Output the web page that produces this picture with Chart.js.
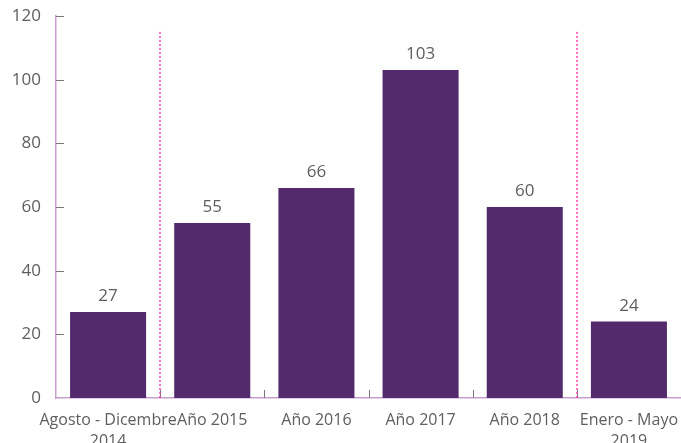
<!DOCTYPE html>
<html>
<head>
<meta charset="utf-8">
<script src="https://cdn.jsdelivr.net/npm/chart.js@4/dist/chart.umd.min.js"></script>
<style>
  html, body { margin: 0; padding: 0; background: #fff; overflow: hidden; }
  #wrap { width: 681px; height: 443px; }
</style>
</head>
<body>
<div id="wrap"><canvas id="chart"></canvas></div>
<script>
var categories = [['Agosto - Dicembre', '2014'], 'Año 2015', 'Año 2016', 'Año 2017', 'Año 2018', ['Enero - Mayo', '2019']];
var values = [27, 55, 66, 103, 60, 24];
var yTicks = [0, 20, 40, 60, 80, 100, 120];
var separatorTop = 115;

var fontFamily = '"Open Sans", Lato, sans-serif';
var textColor = '#5e5e5e';

// labels above each bar
var valueLabels = {
  id: 'valueLabels',
  afterDatasetsDraw: function (chart) {
    var ctx = chart.ctx;
    var meta = chart.getDatasetMeta(0);
    ctx.save();
    ctx.font = '17px ' + fontFamily;
    ctx.fillStyle = textColor;
    ctx.textAlign = 'center';
    ctx.textBaseline = 'bottom';
    meta.data.forEach(function (bar, i) {
      ctx.fillText(values[i], bar.x, bar.y - 7);
    });
    ctx.restore();
  }
};

// inward ticks + pink dotted separators
var extras = {
  id: 'extras',
  beforeDatasetsDraw: function (chart) {
    var ctx = chart.ctx;
    var x = chart.scales.x;
    var y = chart.scales.y;
    var area = chart.chartArea;
    ctx.save();
    ctx.strokeStyle = '#777';
    ctx.lineWidth = 1;
    yTicks.forEach(function (t) {
      if (t === 0) return;
      var py = Math.round(y.getPixelForValue(t)) + 0.5;
      ctx.beginPath();
      ctx.moveTo(area.left, py);
      ctx.lineTo(area.left + 8, py);
      ctx.stroke();
    });
    for (var i = 1; i < categories.length; i++) {
      var px = Math.round((x.getPixelForValue(i - 1) + x.getPixelForValue(i)) / 2) + 0.5;
      ctx.beginPath();
      ctx.moveTo(px, area.bottom);
      ctx.lineTo(px, area.bottom - 8);
      ctx.stroke();
    }
    ctx.strokeStyle = '#ff3fae';
    ctx.lineWidth = 1.5;
    ctx.setLineDash([2, 2]);
    [1, categories.length - 1].forEach(function (i) {
      var px = Math.round((x.getPixelForValue(i - 1) + x.getPixelForValue(i)) / 2);
      ctx.beginPath();
      ctx.moveTo(px, y.getPixelForValue(separatorTop));
      ctx.lineTo(px, area.bottom);
      ctx.stroke();
    });
    ctx.restore();
  }
};

new Chart(document.getElementById('chart').getContext('2d'), {
  type: 'bar',
  data: {
    labels: categories,
    datasets: [{
      data: values,
      backgroundColor: '#532a6c',
      categoryPercentage: 0.73,
      barPercentage: 1
    }]
  },
  options: {
    responsive: true,
    maintainAspectRatio: false,
    animation: false,
    layout: { padding: { top: 16, right: 0, left: 0, bottom: 0 } },
    plugins: { legend: { display: false }, tooltip: { enabled: false } },
    scales: {
      x: {
        grid: { display: false, drawTicks: false },
        border: { display: true, color: '#c79fcd', width: 1.5 },
        ticks: {
          color: textColor,
          font: { family: fontFamily, size: 16, lineHeight: 1.3 },
          padding: 12,
          maxRotation: 0,
          autoSkip: false
        },
        afterFit: function (scale) {
          scale.height = 45;
          scale.paddingLeft = 0;
          scale.paddingRight = 0;
        }
      },
      y: {
        min: 0,
        max: 120,
        afterBuildTicks: function (scale) {
          scale.ticks = yTicks.map(function (v) { return { value: v }; });
        },
        grid: { display: false, drawTicks: false },
        border: { display: true, color: '#c79fcd', width: 1.5 },
        ticks: {
          color: textColor,
          font: { family: fontFamily, size: 17 },
          padding: 15
        },
        afterFit: function (scale) {
          scale.width = 56;
          scale.paddingTop = 0;
        }
      }
    }
  },
  plugins: [extras, valueLabels]
});
</script>
</body>
</html>
